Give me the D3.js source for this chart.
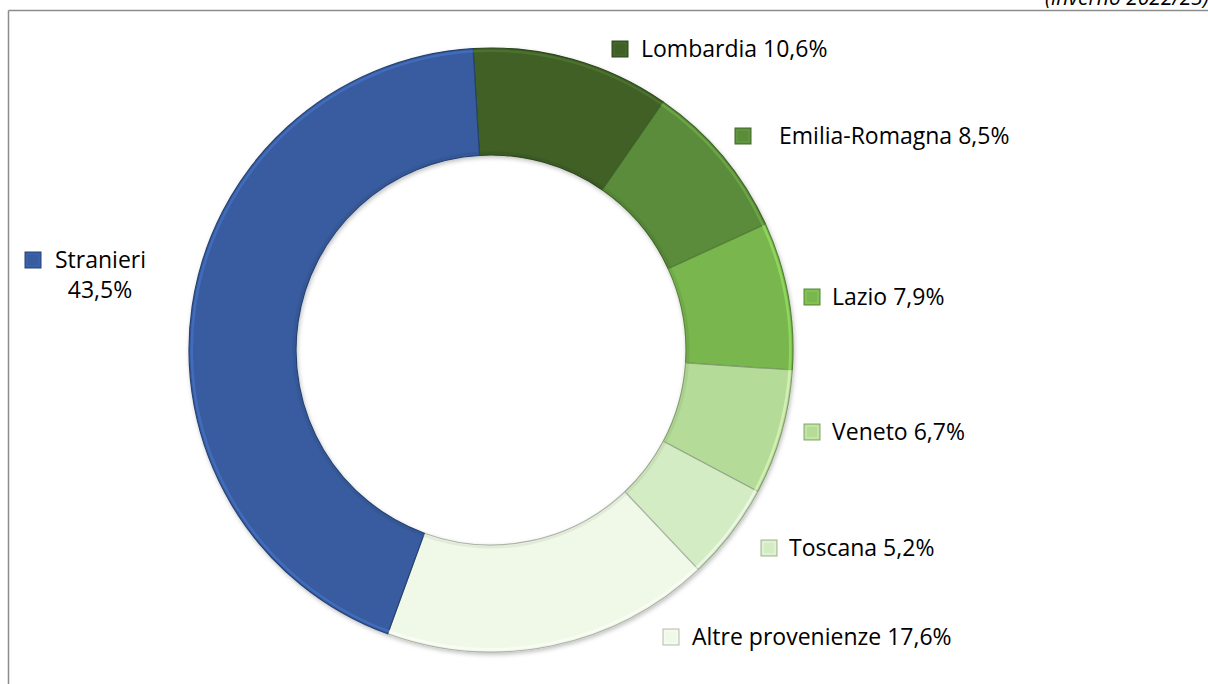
<!DOCTYPE html>
<html lang="it">
<head>
  <meta charset="UTF-8">
  <title>Provenienza dei turisti</title>
  <script src="https://d3js.org/d3.v7.min.js"></script>
  <style>
    body { margin: 0; background: #fff; }
    svg text { font-family: "Open Sans", Lato, sans-serif; fill: #000; }
  </style>
</head>
<body>
  <div id="chart"></div>
  <script>
    // Data
    const regions = ["Lombardia", "Emilia-Romagna", "Lazio", "Veneto", "Toscana", "Altre provenienze", "Stranieri"];
    const shares = [10.6, 8.5, 7.9, 6.7, 5.2, 17.6, 43.5];
    const subtitle = "(inverno 2022/23)";

    // Styles
    const colors = ["#3f6027", "#5a8c3a", "#79b64e", "#b4dc98", "#d3ecc3", "#f0f9e7", "#375c9f"];

    // Label placement (square left x, text centre y)
    const labelPos = [
      { x: 612, y: 49, gap: 29 },
      { x: 735, y: 136, gap: 44 },
      { x: 804, y: 297, gap: 28 },
      { x: 804, y: 432, gap: 28 },
      { x: 761, y: 548, gap: 28 },
      { x: 663, y: 637, gap: 29 }
    ];

    const width = 1208, height = 684;
    const cx = 491, cy = 350;
    const outerR = 302, innerR = 195;
    const offset = -3.4 * Math.PI / 180;
    const fontSize = "23px";

    const fmt = v => d3.format(".1f")(v).replace(".", ",") + "%";

    const svg = d3.select("#chart").append("svg")
      .attr("width", width)
      .attr("height", height);

    // Frame lines
    svg.append("line")
      .attr("x1", 8.5).attr("x2", width).attr("y1", 10.5).attr("y2", 10.5)
      .attr("stroke", "#8c8c8c").attr("stroke-width", 1.5);
    svg.append("line")
      .attr("x1", 8.5).attr("x2", 8.5).attr("y1", 10.5).attr("y2", height)
      .attr("stroke", "#8c8c8c").attr("stroke-width", 1.5);

    // Subtitle, clipped at top right as in the source
    svg.append("text")
      .attr("x", 1045).attr("y", 5)
      .style("font-size", "21px")
      .style("font-style", "italic")
      .text(subtitle);

    // Shadow filter
    const defs = svg.append("defs");
    const f = defs.append("filter").attr("id", "shadow")
      .attr("x", "-10%").attr("y", "-10%").attr("width", "120%").attr("height", "120%");
    f.append("feDropShadow")
      .attr("dx", 1).attr("dy", 2).attr("stdDeviation", 2)
      .attr("flood-color", "#000").attr("flood-opacity", 0.25);

    const pie = d3.pie()
      .sort(null)
      .value(d => d)
      .startAngle(offset)
      .endAngle(offset + 2 * Math.PI);

    const arcs = pie(shares);

    const arc = d3.arc().innerRadius(innerR).outerRadius(outerR);
    const hiArc = d3.arc().innerRadius(outerR - 4).outerRadius(outerR - 1.5);
    const loArc = d3.arc().innerRadius(innerR + 1).outerRadius(innerR + 3.5);

    const g = svg.append("g")
      .attr("transform", `translate(${cx},${cy})`);

    g.append("g").attr("filter", "url(#shadow)")
      .selectAll("path")
      .data(arcs)
      .enter().append("path")
        .attr("d", arc)
        .attr("fill", (d, i) => colors[i])
        .attr("stroke", (d, i) => d3.color(colors[i]).darker(0.9))
        .attr("stroke-width", 1.2)
        .attr("stroke-linejoin", "round");

    // Bevel highlights
    g.selectAll(".hi")
      .data(arcs)
      .enter().append("path")
        .attr("class", "hi")
        .attr("d", hiArc)
        .attr("fill", (d, i) => d3.color(colors[i]).brighter(0.8))
        .attr("opacity", 0.55);

    g.selectAll(".lo")
      .data(arcs)
      .enter().append("path")
        .attr("class", "lo")
        .attr("d", loArc)
        .attr("fill", (d, i) => d3.color(colors[i]).darker(0.5))
        .attr("opacity", 0.35);

    // Legend markers + labels
    function marker(x, y, c) {
      svg.append("rect")
        .attr("x", x).attr("y", y).attr("width", 16).attr("height", 16)
        .attr("fill", c)
        .attr("stroke", d3.color(c).darker(0.8)).attr("stroke-width", 1);
      svg.append("rect")
        .attr("x", x + 2).attr("y", y + 2).attr("width", 12).attr("height", 12)
        .attr("fill", "none")
        .attr("stroke", d3.color(c).brighter(0.6)).attr("stroke-width", 1)
        .attr("opacity", 0.6);
    }

    labelPos.forEach((p, i) => {
      marker(p.x, p.y - 8, colors[i]);
      svg.append("text")
        .attr("x", p.x + p.gap)
        .attr("y", p.y + 8)
        .style("font-size", fontSize)
        .text(`${regions[i]} ${fmt(shares[i])}`);
    });

    // Stranieri label (two lines)
    const si = regions.length - 1;
    marker(25, 252, colors[si]);
    svg.append("text")
      .attr("x", 55).attr("y", 268)
      .style("font-size", fontSize)
      .text(regions[si]);
    svg.append("text")
      .attr("x", 100).attr("y", 298)
      .attr("text-anchor", "middle")
      .style("font-size", fontSize)
      .text(fmt(shares[si]));
  </script>
</body>
</html>
